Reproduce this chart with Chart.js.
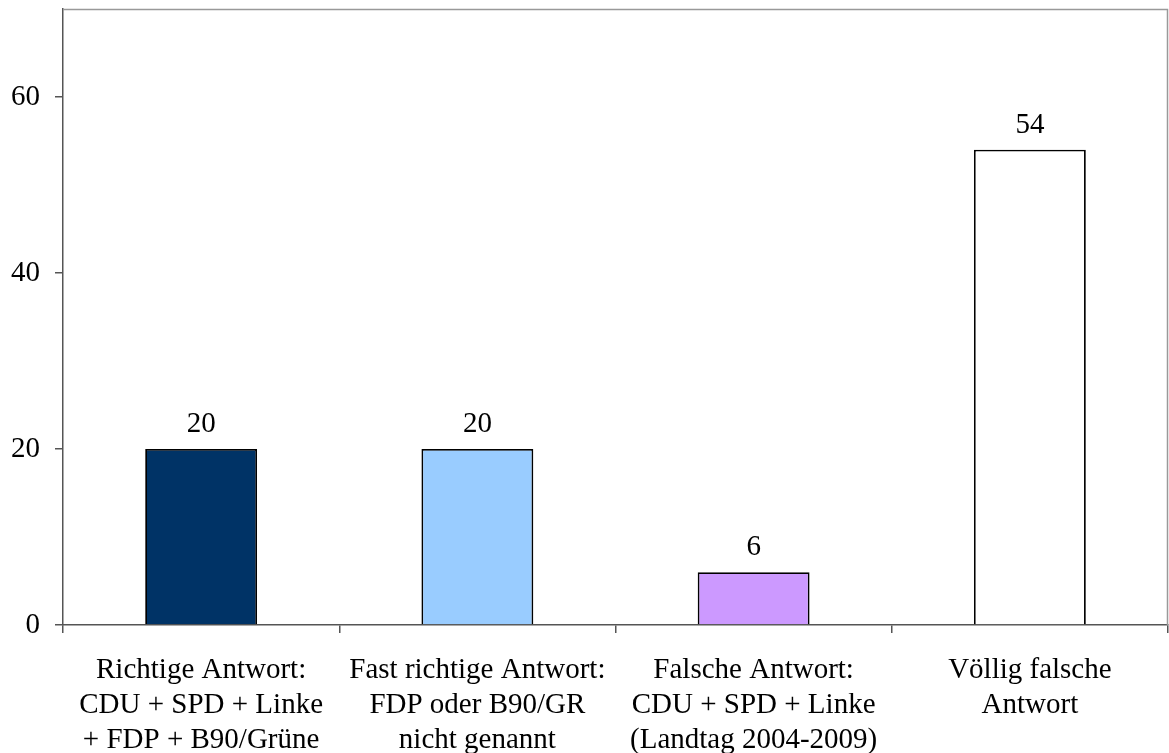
<!DOCTYPE html>
<html><head><meta charset="utf-8">
<script src="https://cdn.jsdelivr.net/npm/chart.js@4"></script>
<style>html,body{margin:0;padding:0;background:#fff}#wrap{width:1169px;height:753px}</style>
</head><body><div id="wrap"><canvas id="c" width="1169" height="753"></canvas></div>
<script>
const categories = [
  ["Richtige Antwort:", "CDU + SPD + Linke", "+ FDP + B90/Grüne"],
  ["Fast richtige Antwort:", "FDP oder B90/GR", "nicht genannt"],
  ["Falsche Antwort:", "CDU + SPD + Linke", "(Landtag 2004-2009)"],
  ["Völlig falsche", "Antwort"]
];
const values = [20, 20, 6, 54];
const barColors = ["#003366", "#99CCFF", "#CC99FF", "#FFFFFF"];
const yTicks = [0, 20, 40, 60];

const FONT = "'Liberation Serif', 'Times New Roman', serif";
const FS = 29;

const labelPlugin = {
  id: 'valLabels',
  afterDatasetsDraw(chart) {
    const ctx = chart.ctx;
    const meta = chart.getDatasetMeta(0);
    ctx.save();
    ctx.font = FS + "px " + FONT;
    ctx.fillStyle = "#000";
    ctx.textAlign = "center";
    ctx.textBaseline = "alphabetic";
    meta.data.forEach((bar, i) => {
      ctx.fillText(String(values[i]), bar.x, bar.y - 17);
    });
    ctx.restore();
  }
};
const borderPlugin = {
  id: 'frame',
  beforeDatasetsDraw(chart) {
    const a = chart.chartArea, ctx = chart.ctx;
    ctx.save();
    ctx.strokeStyle = "#999";
    ctx.lineWidth = 1.5;
    ctx.beginPath();
    ctx.moveTo(a.left, a.top + 0.5);
    ctx.lineTo(a.right - 0.5, a.top + 0.5);
    ctx.lineTo(a.right - 0.5, a.bottom);
    ctx.stroke();
    ctx.restore();
  }
};

new Chart(document.getElementById('c'), {
  type: 'bar',
  data: {
    labels: categories,
    datasets: [{
      data: values,
      backgroundColor: barColors,
      borderColor: "#000",
      borderWidth: 1.8,
      barPercentage: 0.81,
      categoryPercentage: 0.5
    }]
  },
  options: {
    responsive: false,
    animation: false,
    events: [],
    layout: { padding: { top: 9, right: 1, left: 0, bottom: 0 } },
    plugins: { legend: { display: false }, tooltip: { enabled: false } },
    scales: {
      x: {
        offset: true,
        grid: { offset: true, drawOnChartArea: false, drawTicks: true, tickLength: 8, color: "#555", lineWidth: 1.5 },
        border: { display: true, color: "#555", width: 1.5 },
        ticks: { color: "#000", font: { family: FONT, size: FS, lineHeight: 1.2 }, padding: 20, maxRotation: 0, autoSkip: false },
        afterFit(s) { s.height = 128; s.paddingLeft = 0; s.paddingRight = 0; }
      },
      y: {
        min: 0, max: 70,
        afterBuildTicks(s) { s.ticks = yTicks.map(v => ({ value: v })); },
        grid: { drawOnChartArea: false, drawTicks: true, tickLength: 8, color: "#555", lineWidth: 1.5 },
        border: { display: true, color: "#555", width: 1.5 },
        ticks: { color: "#000", font: { family: FONT, size: FS }, padding: 15 },
        afterFit(s) { s.width = 63; s.paddingTop = 0; s.paddingBottom = 0; }
      }
    }
  },
  plugins: [labelPlugin, borderPlugin]
});
</script></body></html>
